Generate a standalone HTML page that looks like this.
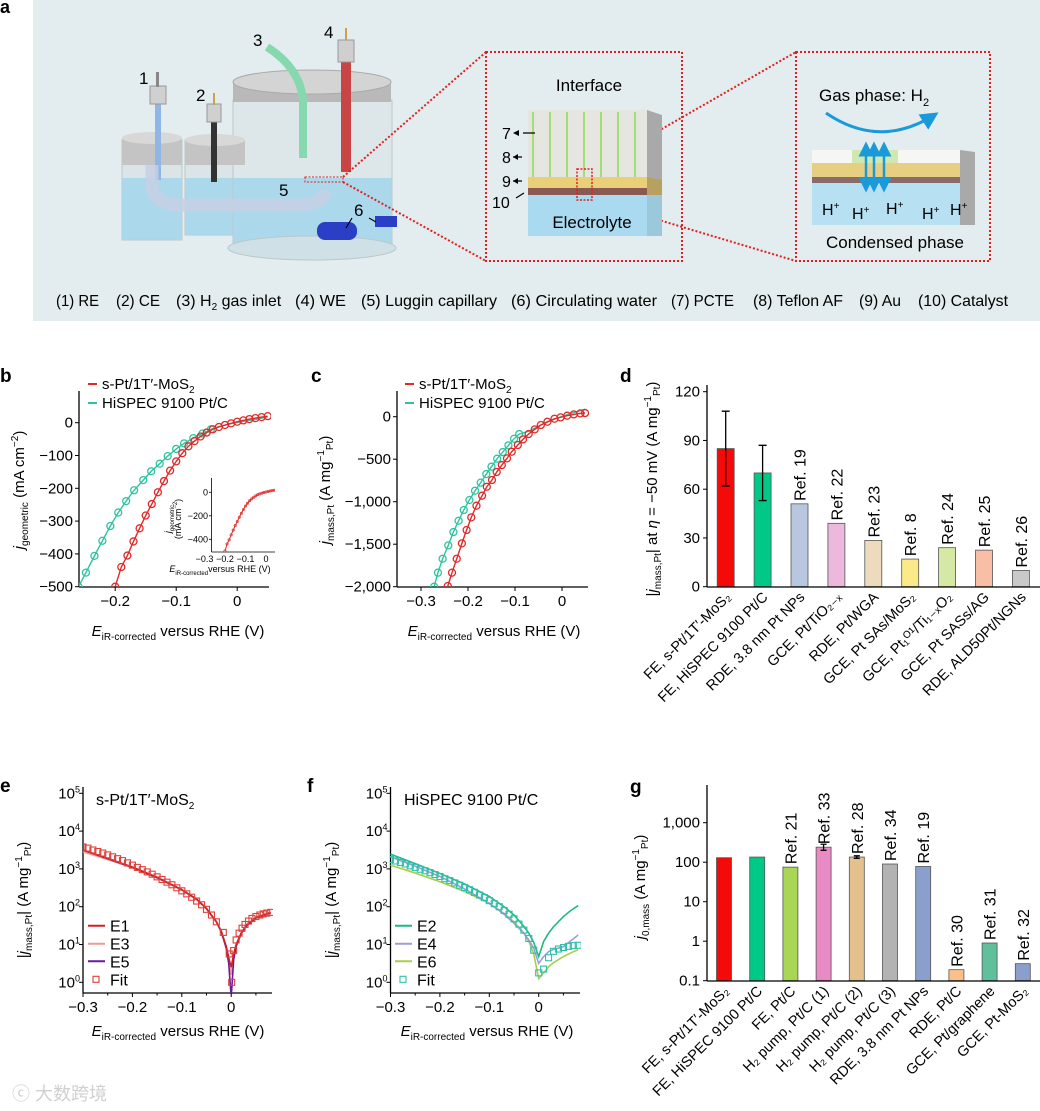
<!DOCTYPE html>
<html><head><meta charset="utf-8">
<style>
html,body{margin:0;padding:0;background:#fff;}
svg{display:block;font-family:"Liberation Sans",Arial,sans-serif;}
</style></head>
<body>
<svg id="fig" width="1040" height="1111" viewBox="0 0 1040 1111" xmlns="http://www.w3.org/2000/svg">
<defs>
 <marker id="ah" markerWidth="6" markerHeight="6" refX="5" refY="3" orient="auto"><path d="M0,0 L6,3 L0,6 z" fill="#1a9ad8"/></marker>
 <marker id="ahs" markerWidth="6" markerHeight="6" refX="1" refY="3" orient="auto"><path d="M6,0 L0,3 L6,6 z" fill="#1a9ad8"/></marker>
 <clipPath id="clipB"><rect x="79" y="380" width="192" height="207"/></clipPath>
 <clipPath id="clipBi"><rect x="211" y="480" width="64" height="72"/></clipPath>
 <clipPath id="clipC"><rect x="397" y="380" width="192" height="207"/></clipPath>
 <clipPath id="clipE"><rect x="83" y="785" width="190" height="208"/></clipPath>
 <clipPath id="clipF"><rect x="390" y="785" width="191" height="208"/></clipPath>
</defs>

<!-- Panel a -->
<g>
 <text x="0" y="13" font-size="18" font-weight="bold">a</text>
 <rect x="33" y="0" width="1007" height="321" fill="#e3ecee"/>
 <g>
  <rect x="122" y="140" width="60" height="100" fill="#dbe5e8" stroke="#bcc7cb"/>
  <rect x="122" y="178" width="60" height="62" fill="#a6d6ec" opacity="0.9"/>
  <rect x="185" y="140" width="60" height="95" fill="#dbe5e8" stroke="#bcc7cb"/>
  <rect x="185" y="178" width="60" height="57" fill="#a6d6ec" opacity="0.9"/>
  <rect x="233" y="100" width="159" height="150" fill="#dde7ea" stroke="#bcc7cb"/>
  <rect x="233" y="178" width="159" height="72" fill="#a6d6ec" opacity="0.9"/>
  <ellipse cx="312" cy="248" rx="84" ry="12" fill="#cfe0e6" stroke="#bcc7cb"/>
  <rect x="233" y="82" width="158" height="20" fill="#b9b9b9"/>
  <ellipse cx="312" cy="82" rx="79" ry="12" fill="#d4d4d4" stroke="#aaa"/>
  <rect x="122" y="138" width="60" height="27" fill="#c4c4c4"/>
  <ellipse cx="152" cy="138" rx="30" ry="6" fill="#d8d8d8"/>
  <rect x="185" y="140" width="60" height="25" fill="#c4c4c4"/>
  <ellipse cx="215" cy="140" rx="30" ry="6" fill="#d8d8d8"/>
  <rect x="155" y="100" width="6" height="80" fill="#8fb6e6"/>
  <rect x="150" y="86" width="16" height="18" fill="#d0d0d0" stroke="#999"/>
  <rect x="156" y="72" width="3" height="15" fill="#888"/>
  <rect x="211" y="120" width="6" height="62" fill="#333"/>
  <rect x="207" y="104" width="14" height="18" fill="#d0d0d0" stroke="#999"/>
  <rect x="213" y="93" width="2" height="12" fill="#c9a24a"/>
  <path d="M267,47 Q300,68 303,100 L303,158" stroke="#86d8ae" stroke-width="8" fill="none"/>
  <rect x="341" y="60" width="10" height="112" fill="#c94444"/>
  <rect x="338" y="40" width="16" height="22" fill="#cfcfcf" stroke="#999"/>
  <rect x="345" y="28" width="2" height="12" fill="#c9a24a"/>
  <path d="M152,165 L152,185 Q154,205 180,205 L300,205 Q322,205 326,190" stroke="#c5d0e4" stroke-width="13" fill="none" opacity="0.85"/>
  <rect x="317" y="222" width="40" height="18" rx="8" fill="#2a3fc6"/>
  <rect x="375" y="216" width="22" height="11" fill="#2a3fc6"/>
  <rect x="305" y="177" width="38" height="5" fill="none" stroke="#e02020" stroke-dasharray="2,1.5"/>
  <text x="139" y="84" font-size="17">1</text>
  <text x="196" y="101" font-size="17">2</text>
  <text x="253" y="46" font-size="17">3</text>
  <text x="324" y="38" font-size="17">4</text>
  <text x="279" y="196" font-size="17">5</text>
  <text x="354" y="216" font-size="17">6</text>
  <path d="M352,218 L346,228 M369,218 L376,222" stroke="#000" stroke-width="1.2"/>
 </g>
 <g stroke="#e02020" stroke-width="2" stroke-dasharray="2,2" fill="none">
  <line x1="343" y1="177" x2="486" y2="52"/>
  <line x1="343" y1="182" x2="486" y2="261"/>
  <line x1="592" y1="169" x2="796" y2="52"/>
  <line x1="592" y1="200" x2="796" y2="261"/>
 </g>
 <g>
  <rect x="486" y="52" width="196" height="209" fill="none" stroke="#e02020" stroke-width="2" stroke-dasharray="2,2"/>
  <text x="589" y="91" font-size="17" text-anchor="middle">Interface</text>
  <rect x="528" y="110" width="119" height="67" fill="#e6e6e0"/>
  <g stroke="#a6dc78" stroke-width="2">
   <line x1="533" y1="112" x2="533" y2="177"/><line x1="550" y1="112" x2="550" y2="177"/><line x1="567" y1="112" x2="567" y2="177"/><line x1="584" y1="112" x2="584" y2="177"/><line x1="601" y1="112" x2="601" y2="177"/><line x1="618" y1="112" x2="618" y2="177"/><line x1="635" y1="112" x2="635" y2="177"/>
  </g>
  <rect x="528" y="177" width="119" height="11" fill="#e8cf78"/>
  <rect x="528" y="188" width="119" height="7" fill="#8a5a52"/>
  <rect x="528" y="195" width="119" height="41" fill="#a9daf0"/>
  <polygon points="647,110 662,115 662,236 647,236" fill="#a9a9a9"/>
  <polygon points="647,177 662,180 662,195 647,195" fill="#b8a060"/>
  <polygon points="647,195 662,195 662,236 647,236" fill="#9cc8dc"/>
  <rect x="577" y="169" width="15" height="31" fill="none" stroke="#e02020" stroke-width="1.5" stroke-dasharray="2,1.5"/>
  <text x="592" y="228" font-size="17" text-anchor="middle">Electrolyte</text>
  <text x="502" y="139" font-size="16">7</text><text x="502" y="163" font-size="16">8</text><text x="502" y="187" font-size="16">9</text><text x="492" y="208" font-size="16">10</text>
  <path d="M523,133 L535,133 M513,157 L522,157 M513,181 L522,181 M516,198 L524,193" stroke="#000" stroke-width="1.2"/>
  <path d="M513,133 L519,130 L519,136 z M513,157 L518,154 L518,160 z M513,181 L518,178 L518,184 z" fill="#000"/>
 </g>
 <g>
  <rect x="796" y="52" width="194" height="209" fill="none" stroke="#e02020" stroke-width="2" stroke-dasharray="2,2"/>
  <text x="819" y="101" font-size="17">Gas phase: H<tspan font-size="11" dy="5">2</tspan></text>
  <path d="M826,113 Q880,150 936,114" stroke="#1a9ad8" stroke-width="3" fill="none" marker-end="url(#ah)"/>
  <rect x="812" y="150" width="148" height="13" fill="#f6f6f4"/>
  <rect x="852" y="150" width="46" height="13" fill="#cfe8b0"/>
  <rect x="812" y="163" width="148" height="14" fill="#e6cf80"/>
  <rect x="812" y="177" width="148" height="6" fill="#8a6a6a"/>
  <rect x="812" y="183" width="148" height="42" fill="#b7e0f2"/>
  <polygon points="960,150 975,152 975,225 960,225" fill="#a9a9a9"/>
  <g stroke="#1a9ad8" stroke-width="2.5" marker-end="url(#ah)" marker-start="url(#ahs)">
   <line x1="866" y1="144" x2="866" y2="190"/><line x1="874" y1="144" x2="874" y2="190"/><line x1="884" y1="144" x2="884" y2="190"/>
  </g>
  <text x="822" y="215" font-size="16">H<tspan font-size="10" dy="-6">+</tspan></text>
  <text x="852" y="219" font-size="16">H<tspan font-size="10" dy="-6">+</tspan></text>
  <text x="886" y="214" font-size="16">H<tspan font-size="10" dy="-6">+</tspan></text>
  <text x="922" y="219" font-size="16">H<tspan font-size="10" dy="-6">+</tspan></text>
  <text x="950" y="215" font-size="16">H<tspan font-size="10" dy="-6">+</tspan></text>
  <text x="895" y="248" font-size="17" text-anchor="middle">Condensed phase</text>
 </g>
 <g font-size="16">
  <text x="56" y="306" textLength="43" lengthAdjust="spacingAndGlyphs">(1) RE</text>
  <text x="116" y="306" textLength="44" lengthAdjust="spacingAndGlyphs">(2) CE</text>
  <text x="176" y="306">(3) H<tspan font-size="10" dy="4">2</tspan><tspan dy="-4"> gas inlet</tspan></text>
  <text x="295" y="306" textLength="51" lengthAdjust="spacingAndGlyphs">(4) WE</text>
  <text x="361" y="306" textLength="136" lengthAdjust="spacingAndGlyphs">(5) Luggin capillary</text>
  <text x="511" y="306" textLength="146" lengthAdjust="spacingAndGlyphs">(6) Circulating water</text>
  <text x="671" y="306" textLength="63" lengthAdjust="spacingAndGlyphs">(7) PCTE</text>
  <text x="753" y="306" textLength="90" lengthAdjust="spacingAndGlyphs">(8) Teflon AF</text>
  <text x="859" y="306" textLength="42" lengthAdjust="spacingAndGlyphs">(9) Au</text>
  <text x="918" y="306" textLength="90" lengthAdjust="spacingAndGlyphs">(10) Catalyst</text>
 </g>
</g>

<!-- static labels -->
<text x="0" y="382" font-size="19" font-weight="bold">b</text>
<text x="311" y="382" font-size="19" font-weight="bold">c</text>
<text x="620" y="382" font-size="19" font-weight="bold">d</text>
<text x="0" y="792" font-size="19" font-weight="bold">e</text>
<text x="307" y="792" font-size="19" font-weight="bold">f</text>
<text x="630" y="793" font-size="19" font-weight="bold">g</text>

<text x="178" y="636" font-size="15" text-anchor="middle"><tspan font-style="italic">E</tspan><tspan font-size="10" dy="4">iR-corrected</tspan><tspan dy="-4"> versus RHE (V)</tspan></text>
<text transform="translate(24,490) rotate(-90)" font-size="15" text-anchor="middle"><tspan font-style="italic">j</tspan><tspan font-size="10" dy="4">geometric</tspan><tspan dy="-4"> (mA cm</tspan><tspan font-size="10" dy="-6">−2</tspan><tspan dy="6">)</tspan></text>
<text x="494" y="636" font-size="15" text-anchor="middle"><tspan font-style="italic">E</tspan><tspan font-size="10" dy="4">iR-corrected</tspan><tspan dy="-4"> versus RHE (V)</tspan></text>
<text transform="translate(330,490) rotate(-90)" font-size="15" text-anchor="middle"><tspan font-style="italic">j</tspan><tspan font-size="10" dy="4">mass,Pt</tspan><tspan dy="-4"> (A mg</tspan><tspan font-size="10" dy="-6">−1</tspan><tspan font-size="10" dy="9">Pt</tspan><tspan dy="-3">)</tspan></text>
<text transform="translate(657,489) rotate(-90)" font-size="15" text-anchor="middle">|<tspan font-style="italic">j</tspan><tspan font-size="10" dy="4">mass,Pt</tspan><tspan dy="-4">| at </tspan><tspan font-style="italic">η</tspan> = −50 mV (A mg<tspan font-size="10" dy="-6">−1</tspan><tspan font-size="10" dy="9">Pt</tspan><tspan dy="-3">)</tspan></text>
<text x="178" y="1036" font-size="15" text-anchor="middle"><tspan font-style="italic">E</tspan><tspan font-size="10" dy="4">iR-corrected</tspan><tspan dy="-4"> versus RHE (V)</tspan></text>
<text transform="translate(28,900) rotate(-90)" font-size="15" text-anchor="middle">|<tspan font-style="italic">j</tspan><tspan font-size="10" dy="4">mass,Pt</tspan><tspan dy="-4">| (A mg</tspan><tspan font-size="10" dy="-6">−1</tspan><tspan font-size="10" dy="9">Pt</tspan><tspan dy="-3">)</tspan></text>
<text x="487" y="1036" font-size="15" text-anchor="middle"><tspan font-style="italic">E</tspan><tspan font-size="10" dy="4">iR-corrected</tspan><tspan dy="-4"> versus RHE (V)</tspan></text>
<text transform="translate(336,900) rotate(-90)" font-size="15" text-anchor="middle">|<tspan font-style="italic">j</tspan><tspan font-size="10" dy="4">mass,Pt</tspan><tspan dy="-4">| (A mg</tspan><tspan font-size="10" dy="-6">−1</tspan><tspan font-size="10" dy="9">Pt</tspan><tspan dy="-3">)</tspan></text>
<text transform="translate(645,887) rotate(-90)" font-size="15" text-anchor="middle"><tspan font-style="italic">j</tspan><tspan font-size="10" dy="4">0,mass</tspan><tspan dy="-4"> (A mg</tspan><tspan font-size="10" dy="-6">−1</tspan><tspan font-size="10" dy="9">Pt</tspan><tspan dy="-3">)</tspan></text>
<text x="96" y="805" font-size="16">s-Pt/1T′-MoS<tspan font-size="10" dy="4">2</tspan></text>
<text x="404" y="805" font-size="16">HiSPEC 9100 Pt/C</text>
<text x="220" y="572" font-size="9" text-anchor="middle"><tspan font-style="italic">E</tspan><tspan font-size="6" dy="3">iR-corrected</tspan><tspan dy="-3">versus RHE (V)</tspan></text>
<text transform="translate(171,519) rotate(-90)" font-size="9" text-anchor="middle"><tspan font-style="italic">j</tspan><tspan font-size="6" dy="3">geometric</tspan></text>
<text transform="translate(181,519) rotate(-90)" font-size="9" text-anchor="middle">(mA cm<tspan font-size="6" dy="-4">−2</tspan><tspan dy="4">)</tspan></text>
<text x="12" y="1100" font-size="18" fill="#d0d0d0" font-family="'Liberation Sans','Noto Sans CJK SC',sans-serif">ⓒ 大数跨境</text>

<script>
// ---------- data ----------
const bRedX = [-0.2,-0.19,-0.18,-0.17,-0.16,-0.15,-0.14,-0.13,-0.12,-0.11,-0.1,-0.09,-0.08,-0.07,-0.06,-0.05,-0.04,-0.03,-0.02,-0.01,0,0.01,0.02,0.03,0.04,0.05];
const bRedY = [-500,-440,-405,-362,-322,-283,-248,-212,-178,-146,-118,-93,-72,-56,-42,-30,-20,-13,-7,-2,3,7,11,14,17,20];
const bGreenX = [-0.26,-0.248,-0.234,-0.221,-0.208,-0.195,-0.182,-0.169,-0.154,-0.141,-0.127,-0.114,-0.1,-0.087,-0.072,-0.057,-0.043];
const bGreenY = [-500,-457,-406,-360,-315,-274,-239,-206,-175,-148,-125,-102,-80,-63,-47,-33,-20];
const bGreenLineX = [-0.03,-0.01,0.01,0.03,0.05];
const bGreenLineY = [-12,-3,4,10,18];
const cRedX = [-0.243,-0.234,-0.224,-0.213,-0.203,-0.193,-0.182,-0.17,-0.16,-0.149,-0.139,-0.128,-0.117,-0.107,-0.094,-0.083,-0.071,-0.058,-0.045,-0.031,-0.016,-0.003,0.011,0.025,0.039,0.049];
const cRedY = [-1992,-1835,-1671,-1490,-1333,-1184,-1047,-929,-824,-745,-651,-569,-490,-412,-333,-267,-204,-149,-98,-59,-24,-8,12,27,39,43];
const cGreenX = [-0.272,-0.264,-0.254,-0.242,-0.231,-0.22,-0.209,-0.197,-0.185,-0.173,-0.161,-0.15,-0.138,-0.126,-0.114,-0.102,-0.091];
const cGreenY = [-2000,-1835,-1671,-1514,-1357,-1224,-1098,-980,-871,-776,-675,-588,-494,-416,-337,-259,-204];
const cGreenLineX = [-0.07,-0.04,-0.01,0.02,0.05];
const cGreenLineY = [-170,-85,-15,40,90];
const dCategories = ["FE, s-Pt/1T′-MoS₂","FE, HiSPEC 9100 Pt/C","RDE, 3.8 nm Pt NPs","GCE, Pt/TiO₂₋ₓ","RDE, Pt/WGA","GCE, Pt SAs/MoS₂","GCE, Pt₁ᴼ¹/Ti₁₋ₓO₂","GCE, Pt SASs/AG","RDE, ALD50Pt/NGNs"];
const dValues = [85,70,51,39,28.5,17,24,22.5,10];
const dErrLow = [62,53,null,null,null,null,null,null,null];
const dErrHigh = [108,87,null,null,null,null,null,null,null];
const dRefs = ["","","Ref. 19","Ref. 22","Ref. 23","Ref. 8","Ref. 24","Ref. 25","Ref. 26"];
const dColors = ["#f50a0a","#00c987","#b9c6df","#ecb9dc","#ecdcbd","#fbe98a","#d5e9a5","#f9bfa6","#c9c9c9"];
const dTicks = [0,30,60,90,120];
const eE1X = [-0.3,-0.25,-0.2,-0.15,-0.1,-0.07,-0.05,-0.03,-0.02,-0.01,-0.005,0,0.005,0.01,0.02,0.03,0.05,0.08];
const eE1Log = [3.5,3.28,3.05,2.78,2.45,2.2,1.95,1.6,1.35,0.95,0.65,0.4,0.75,1.0,1.3,1.5,1.72,1.85];
const eE3Log = [3.45,3.25,3.03,2.76,2.44,2.19,1.94,1.6,1.34,0.92,0.6,0.2,0.7,0.98,1.28,1.48,1.7,1.83];
const eE5Log = [3.5,3.27,3.04,2.77,2.45,2.2,1.95,1.6,1.33,0.9,0.5,-0.4,0.6,0.95,1.28,1.48,1.7,1.84];
const eFitX = [-0.3,-0.29,-0.28,-0.27,-0.26,-0.25,-0.24,-0.23,-0.22,-0.21,-0.2,-0.19,-0.18,-0.17,-0.16,-0.15,-0.14,-0.13,-0.12,-0.11,-0.1,-0.09,-0.08,-0.07,-0.06,-0.05,-0.04,-0.03,-0.016,-0.004,0.001,0.005,0.01,0.016,0.022,0.028,0.035,0.042,0.05,0.058,0.065,0.072,0.08];
const eFitLog = [3.58,3.55,3.5,3.46,3.42,3.37,3.32,3.27,3.22,3.16,3.1,3.04,2.98,2.92,2.86,2.79,2.72,2.65,2.58,2.5,2.42,2.34,2.25,2.15,2.05,1.93,1.78,1.6,1.32,0.75,0.0,0.84,1.12,1.3,1.43,1.53,1.62,1.69,1.74,1.78,1.81,1.83,1.85];
const fX = [-0.3,-0.25,-0.2,-0.15,-0.1,-0.07,-0.05,-0.03,-0.02,-0.01,0,0.01,0.02,0.03,0.05,0.065,0.08];
const fE2Log = [3.39,3.14,2.88,2.6,2.27,2.0,1.78,1.48,1.3,1.05,0.68,1.08,1.3,1.47,1.74,1.9,2.03];
const fE4Log = [3.32,3.07,2.8,2.47,2.09,1.8,1.56,1.3,1.12,0.9,0.5,0.68,0.81,0.87,0.94,1.1,1.25];
const fE6Log = [3.1,2.89,2.66,2.4,2.09,1.82,1.6,1.3,1.08,0.75,0.1,0.25,0.41,0.52,0.68,0.78,0.86];
const fFitX = [-0.3,-0.29,-0.28,-0.27,-0.26,-0.25,-0.24,-0.23,-0.22,-0.21,-0.2,-0.19,-0.18,-0.17,-0.16,-0.15,-0.14,-0.13,-0.12,-0.11,-0.1,-0.09,-0.08,-0.07,-0.06,-0.05,-0.04,-0.03,-0.02,-0.01,0,0.01,0.02,0.03,0.04,0.05,0.06,0.07,0.08];
const fFitLog = [3.25,3.21,3.17,3.13,3.08,3.04,2.99,2.95,2.9,2.85,2.8,2.74,2.69,2.63,2.57,2.51,2.45,2.38,2.31,2.24,2.16,2.08,2.0,1.9,1.8,1.68,1.54,1.38,1.16,0.85,0.25,0.35,0.65,0.82,0.88,0.92,0.95,0.97,0.98];
const gCategories = ["FE, s-Pt/1T′-MoS₂","FE, HiSPEC 9100 Pt/C","FE, Pt/C","H₂ pump, Pt/C (1)","H₂ pump, Pt/C (2)","H₂ pump, Pt/C (3)","RDE, 3.8 nm Pt NPs","RDE, Pt/C","GCE, Pt/graphene","GCE, Pt-MoS₂"];
const gValues = [130,135,75,240,135,90,78,0.19,0.9,0.27];
const gErrLow = [null,null,null,200,125,null,null,null,null,null];
const gErrHigh = [null,null,null,285,145,null,null,null,null,null];
const gRefs = ["","","Ref. 21","Ref. 33","Ref. 28","Ref. 34","Ref. 19","Ref. 30","Ref. 31","Ref. 32"];
const gColors = ["#f50a0a","#00c987","#a8d655","#e88ac4","#e4c18c","#b3b3b3","#8a9fcc","#fbc08a","#60bf9c","#8a9fcc"];
const gTickVals = [0.1,1,10,100,1000];
const gTickLabels = ["0.1","1","10","100","1,000"];

// ---------- helpers ----------
const NS = "http://www.w3.org/2000/svg";
const svg = document.getElementById('fig');
function mk(tag, attrs, parent){
  const e = document.createElementNS(NS, tag);
  for (const k in attrs) e.setAttribute(k, attrs[k]);
  (parent || svg).appendChild(e);
  return e;
}
function group(parent){ return mk('g', {}, parent); }
function pathFrom(xs, ys, sx, sy){
  return xs.map((x,i)=>(i?'L':'M')+sx(x).toFixed(2)+','+sy(ys[i]).toFixed(2)).join(' ');
}
const RED = "#e02a2a", TEAL = "#2ec4a0";
function fmt(v){ let s = Math.abs(v).toLocaleString('en-US'); return (v<0?'−':'')+s; }

// ---------- Panel b ----------
const bx = v => 237.2 + v*610;
const by = v => 422.7 - v*0.328;
const gb = group();


let el = mk('line',{x1:79,y1:391,x2:79,y2:587,stroke:'#000','stroke-width':1.3},gb);


el = mk('line',{x1:79,y1:587,x2:269,y2:587,stroke:'#000','stroke-width':1.3},gb);


[0,-100,-200,-300,-400,-500].forEach(v=>{
  mk('line',{x1:75,x2:79,y1:by(v),y2:by(v),stroke:'#000'},gb);
  const t = mk('text',{x:73,y:by(v)+5,'font-size':15,'text-anchor':'end'},gb);
  t.textContent = fmt(v);
  
  
});
[-0.2,-0.1,0].forEach(v=>{
  mk('line',{x1:bx(v),x2:bx(v),y1:587,y2:591,stroke:'#000'},gb);
  const t = mk('text',{x:bx(v),y:606,'font-size':15,'text-anchor':'middle'},gb);
  t.textContent = v===0?'0':fmt(v);
  
  
});
const bplot = mk('g',{'clip-path':'url(#clipB)'},gb);
el = mk('path',{d:pathFrom(bGreenX.concat(bGreenLineX),bGreenY.concat(bGreenLineY),bx,by),stroke:TEAL,'stroke-width':1.4,fill:'none'},bplot);


bGreenX.forEach((x,i)=>{
  const c = mk('circle',{cx:bx(x),cy:by(bGreenY[i]),r:3.5,stroke:TEAL,'stroke-width':1.3,fill:'none'},bplot);
  
  
});
el = mk('path',{d:pathFrom(bRedX,bRedY,bx,by),stroke:RED,'stroke-width':1.4,fill:'none'},bplot);


bRedX.forEach((x,i)=>{
  const c = mk('circle',{cx:bx(x),cy:by(bRedY[i]),r:3.5,stroke:RED,'stroke-width':1.3,fill:'none'},bplot);
  
  
});
function legendEntry(parent,x,y,color,label,name,sub){
  const g = group(parent);
  
  
  mk('line',{x1:x,x2:x+9,y1:y,y2:y,stroke:color,'stroke-width':2},g);
  const t = mk('text',{x:x+14,y:y+5,'font-size':15},g);
  t.textContent = label;
  if(sub){ const s = mk('tspan',{'font-size':10,dy:4},t); s.textContent = sub; }
  return g;
}
legendEntry(gb,88,384,RED,'s-Pt/1T′-MoS','b-legend-spt','2');
legendEntry(gb,88,403,TEAL,'HiSPEC 9100 Pt/C','b-legend-hispec');
const ix = v => 266 + v*205;
const iy = v => 492.3 - v*0.1175;
const gi = group(gb);


mk('line',{x1:211.5,y1:478,x2:211.5,y2:552,stroke:'#000','stroke-width':0.8},gi);
mk('line',{x1:211.5,y1:552,x2:275,y2:552,stroke:'#000','stroke-width':0.8},gi);
[0,-200,-400].forEach(v=>{
  mk('line',{x1:209,x2:211.5,y1:iy(v),y2:iy(v),stroke:'#000','stroke-width':0.8},gi);
  const t = mk('text',{x:208,y:iy(v)+3,'font-size':9,'text-anchor':'end'},gi);
  t.textContent = fmt(v);
  
  
});
[-0.3,-0.2,-0.1,0].forEach(v=>{
  const t = mk('text',{x:ix(v),y:562,'font-size':9,'text-anchor':'middle'},gi);
  t.textContent = v===0?'0':fmt(v);
  
  
});
const iplot = mk('g',{'clip-path':'url(#clipBi)'},gi);
el = mk('path',{d:pathFrom(bRedX,bRedY,ix,iy),stroke:RED,'stroke-width':1,fill:'none'},iplot);


bRedX.forEach((x,i)=>{
  const c = mk('circle',{cx:ix(x),cy:iy(bRedY[i]),r:1.2,stroke:RED,'stroke-width':0.6,fill:'none'},iplot);
  
  
});

// ---------- Panel c ----------
const cx = v => 562 + v*470;
const cy = v => 416.7 - v*0.085;
const gc = group();


el = mk('line',{x1:397,y1:391,x2:397,y2:587,stroke:'#000','stroke-width':1.3},gc);


el = mk('line',{x1:397,y1:587,x2:588,y2:587,stroke:'#000','stroke-width':1.3},gc);


[0,-500,-1000,-1500,-2000].forEach(v=>{
  mk('line',{x1:393,x2:397,y1:cy(v),y2:cy(v),stroke:'#000'},gc);
  const t = mk('text',{x:391,y:cy(v)+5,'font-size':15,'text-anchor':'end'},gc);
  t.textContent = fmt(v);
  
  
});
[-0.3,-0.2,-0.1,0].forEach(v=>{
  mk('line',{x1:cx(v),x2:cx(v),y1:587,y2:591,stroke:'#000'},gc);
  const t = mk('text',{x:cx(v),y:606,'font-size':15,'text-anchor':'middle'},gc);
  t.textContent = v===0?'0':fmt(v);
  
  
});
const cplot = mk('g',{'clip-path':'url(#clipC)'},gc);
el = mk('path',{d:pathFrom(cGreenX.concat(cGreenLineX),cGreenY.concat(cGreenLineY),cx,cy),stroke:TEAL,'stroke-width':1.4,fill:'none'},cplot);


cGreenX.forEach((x,i)=>{
  const c = mk('circle',{cx:cx(x),cy:cy(cGreenY[i]),r:3.5,stroke:TEAL,'stroke-width':1.3,fill:'none'},cplot);
  
  
});
el = mk('path',{d:pathFrom(cRedX,cRedY,cx,cy),stroke:RED,'stroke-width':1.4,fill:'none'},cplot);


cRedX.forEach((x,i)=>{
  const c = mk('circle',{cx:cx(x),cy:cy(cRedY[i]),r:3.5,stroke:RED,'stroke-width':1.3,fill:'none'},cplot);
  
  
});
legendEntry(gc,405,384,RED,'s-Pt/1T′-MoS','c-legend-spt','2');
legendEntry(gc,405,403,TEAL,'HiSPEC 9100 Pt/C','c-legend-hispec');

function categoryLabel(parent, x, y, label, name){
  const t = mk('text',{transform:`translate(${x},${y}) rotate(-45)`,'font-size':14.5,'text-anchor':'end'},parent);
  t.textContent = label;
  
  
}
// ---------- Panel d ----------
const dY = v => 586.7 - v*1.625;
const dX = i => 725.7 + i*36.9;
const gd = group();


dValues.forEach((v,i)=>{
  const r = mk('rect',{x:dX(i)-8.5,y:dY(v),width:17,height:dY(0)-dY(v),fill:dColors[i],stroke:'#555','stroke-width':0.8},gd);
  
  
  if(dErrLow[i]!==null){
    const e = mk('path',{d:`M${dX(i)},${dY(dErrLow[i])} L${dX(i)},${dY(dErrHigh[i])} M${dX(i)-4},${dY(dErrLow[i])} L${dX(i)+4},${dY(dErrLow[i])} M${dX(i)-4},${dY(dErrHigh[i])} L${dX(i)+4},${dY(dErrHigh[i])}`,stroke:'#000','stroke-width':1.3,fill:'none'},gd);
    
    
  }
  if(dRefs[i]){
    const t = mk('text',{transform:`translate(${dX(i)+6},${dY(v)-3}) rotate(-90)`,'font-size':16},gd);
    t.textContent = dRefs[i];
    
    
  }
  categoryLabel(gd, dX(i)+6, 598, dCategories[i], 'd-category-label');
});
el = mk('line',{x1:707,y1:385,x2:707,y2:587,stroke:'#000','stroke-width':1.3},gd);


el = mk('line',{x1:707,y1:587,x2:1040,y2:587,stroke:'#000','stroke-width':1.3},gd);


dTicks.forEach(v=>{
  mk('line',{x1:703,x2:707,y1:dY(v),y2:dY(v),stroke:'#000'},gd);
  const t = mk('text',{x:700,y:dY(v)+5,'font-size':15,'text-anchor':'end'},gd);
  t.textContent = String(v);
  
  
});

// ---------- Panels e/f ----------
const logY = L => 982.3 - L*37.8;
function logAxes(parent, x0, x1, xs, prefix){
  el = mk('line',{x1:x0,y1:787,x2:x0,y2:993,stroke:'#000','stroke-width':1.3},parent);
  
  
  el = mk('line',{x1:x0,y1:993,x2:x1,y2:993,stroke:'#000','stroke-width':1.3},parent);
  
  
  [0,1,2,3,4,5].forEach(L=>{
    mk('line',{x1:x0-4,x2:x0,y1:logY(L),y2:logY(L),stroke:'#000'},parent);
    const t = mk('text',{x:x0-3,y:logY(L)+5,'font-size':15,'text-anchor':'end'},parent);
    t.textContent = '10';
    const s = mk('tspan',{'font-size':9,dy:-6},t);
    s.textContent = String(L);
    
    
  });
  [-0.3,-0.2,-0.1,0].forEach(v=>{
    mk('line',{x1:xs(v),x2:xs(v),y1:993,y2:997,stroke:'#000'},parent);
    const t = mk('text',{x:xs(v),y:1012,'font-size':15,'text-anchor':'middle'},parent);
    t.textContent = v===0?'0':fmt(v);
    
    
  });
  [-0.25,-0.15,-0.05,0.05].forEach(v=>{
    mk('line',{x1:xs(v),x2:xs(v),y1:993,y2:995.5,stroke:'#000'},parent);
  });
}
function squares(parent, xs, ls, sx, color, name){
  xs.forEach((x,i)=>{
    const r = mk('rect',{x:sx(x)-3,y:logY(ls[i])-3,width:6,height:6,stroke:color,'stroke-width':1.1,fill:'none'},parent);
    
    
  });
}
function legendLog(parent,x,y,color,label,name,square){
  const g = group(parent);
  
  
  if(square) mk('rect',{x:x+5,y:y-3,width:6,height:6,stroke:color,'stroke-width':1.1,fill:'none'},g);
  else mk('line',{x1:x,x2:x+17,y1:y,y2:y,stroke:color,'stroke-width':2},g);
  const t = mk('text',{x:x+22,y:y+6,'font-size':16},g);
  t.textContent = label;
}
const ex = v => 231.2 + v*494;
const ge = group();


logAxes(ge,83,272,ex,'e');
const eplot = mk('g',{'clip-path':'url(#clipE)'},ge);
[[eE3Log,'#f29a96','e-e3-line'],[eE5Log,'#6a1b9a','e-e5-line'],[eE1Log,'#d42020','e-e1-line']].forEach(s=>{
  const p = mk('path',{d:pathFrom(eE1X,s[0],ex,logY),stroke:s[1],'stroke-width':1.6,fill:'none'},eplot);
  
  
});
squares(eplot,eFitX,eFitLog,ex,'#e0403a','e-fit-point');
legendLog(ge,88,925.7,'#d42020','E1','e-legend-e1');
legendLog(ge,88,943.7,'#f29a96','E3','e-legend-e3');
legendLog(ge,88,961.3,'#6a1b9a','E5','e-legend-e5');
legendLog(ge,88,979.3,'#e0403a','Fit','e-legend-fit',true);

const fx = v => 538.7 + v*494;
const gf = group();


logAxes(gf,390.5,580,fx,'f');
const fplot = mk('g',{'clip-path':'url(#clipF)'},gf);
[[fE6Log,'#a8cf4a','f-e6-line'],[fE4Log,'#9a9ee0','f-e4-line'],[fE2Log,'#1db887','f-e2-line']].forEach(s=>{
  const p = mk('path',{d:pathFrom(fX,s[0],fx,logY),stroke:s[1],'stroke-width':1.6,fill:'none'},fplot);
  
  
});
squares(fplot,fFitX,fFitLog,fx,'#30c0a8','f-fit-point');
legendLog(gf,395,925.7,'#1db887','E2','f-legend-e2');
legendLog(gf,395,943.7,'#9a9ee0','E4','f-legend-e4');
legendLog(gf,395,961.3,'#a8cf4a','E6','f-legend-e6');
legendLog(gf,395,979.3,'#30c0a8','Fit','f-legend-fit',true);

// ---------- Panel g ----------
const gY = v => 980.7 - (Math.log10(v)+1)*39.5;
const gX = i => 724 + i*33.2;
const gg = group();


gValues.forEach((v,i)=>{
  const r = mk('rect',{x:gX(i)-7.5,y:gY(v),width:15,height:980.7-gY(v),fill:gColors[i],stroke:'#555','stroke-width':0.8},gg);
  
  
  if(gErrLow[i]!==null){
    const e = mk('path',{d:`M${gX(i)},${gY(gErrLow[i])} L${gX(i)},${gY(gErrHigh[i])} M${gX(i)-3},${gY(gErrLow[i])} L${gX(i)+3},${gY(gErrLow[i])} M${gX(i)-3},${gY(gErrHigh[i])} L${gX(i)+3},${gY(gErrHigh[i])}`,stroke:'#000','stroke-width':1.3,fill:'none'},gg);
    
    
  }
  if(gRefs[i]){
    const top = gErrHigh[i]!==null ? gY(gErrHigh[i]) : gY(v);
    const t = mk('text',{transform:`translate(${gX(i)+6},${Math.min(gY(v),top+12)-3}) rotate(-90)`,'font-size':16},gg);
    t.textContent = gRefs[i];
    
    
  }
  categoryLabel(gg, gX(i)+6, 992, gCategories[i], 'g-category-label');
});
el = mk('line',{x1:707,y1:785,x2:707,y2:981,stroke:'#000','stroke-width':1.3},gg);


el = mk('line',{x1:707,y1:981,x2:1040,y2:981,stroke:'#000','stroke-width':1.3},gg);


gTickVals.forEach((v,i)=>{
  mk('line',{x1:703,x2:707,y1:gY(v),y2:gY(v),stroke:'#000'},gg);
  const t = mk('text',{x:700,y:gY(v)+5,'font-size':15,'text-anchor':'end'},gg);
  t.textContent = gTickLabels[i];
  
  
});
</script>
</svg>
</body></html>
